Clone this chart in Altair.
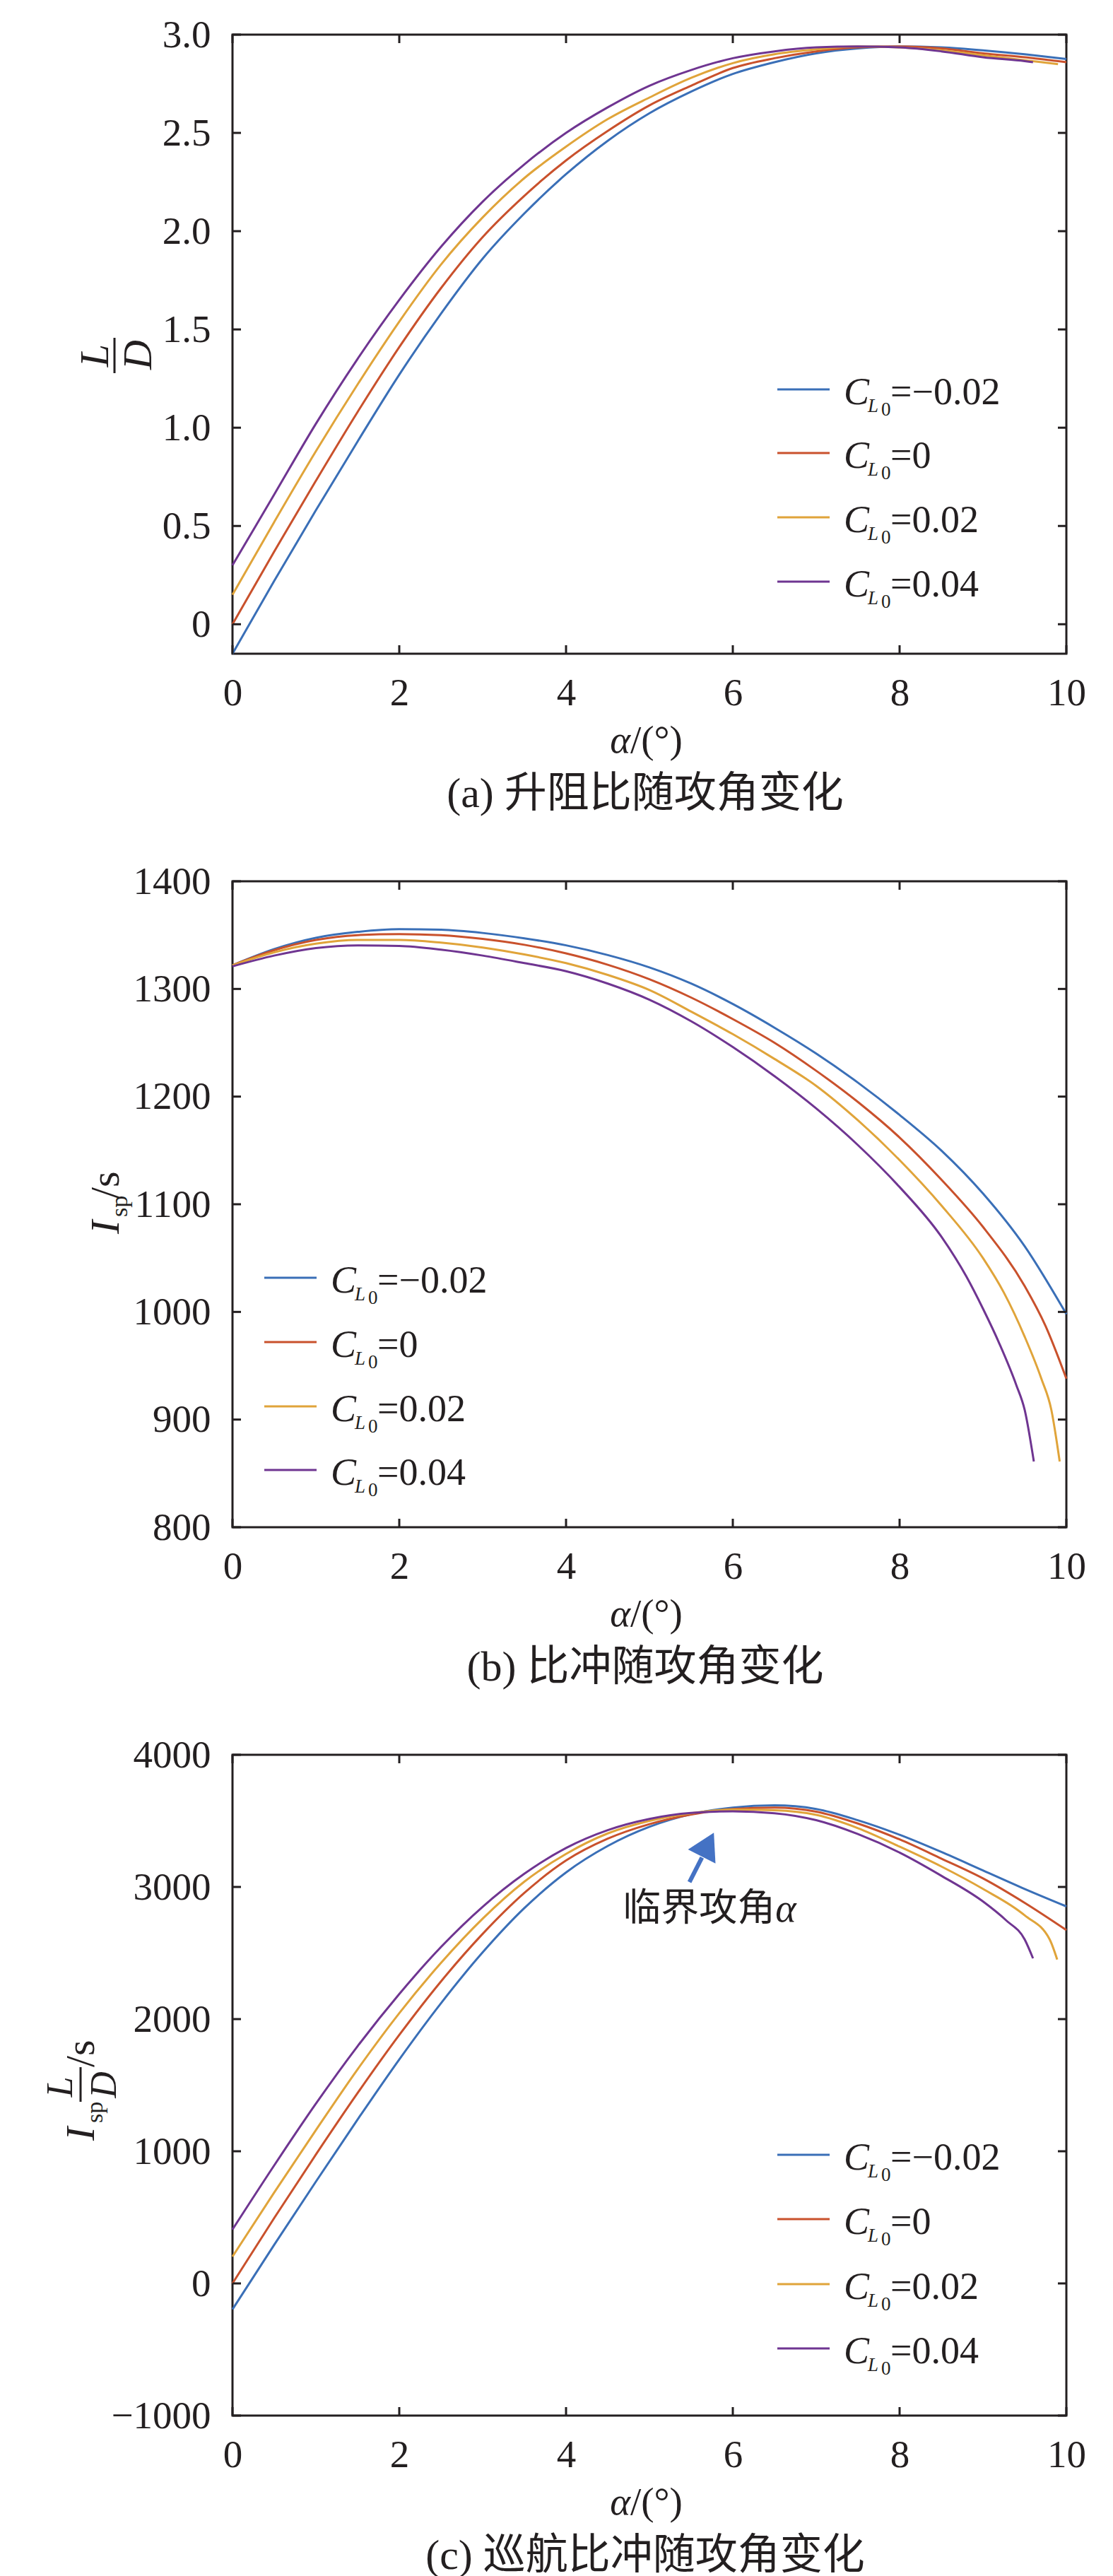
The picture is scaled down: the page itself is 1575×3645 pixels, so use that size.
import altair as alt
import pandas as pd

SERIF = "Liberation Serif"
CJK = "Liberation Serif, Noto Sans CJK SC"
INK = "#231f20"
ARROW = "#4472c4"
W = 1180

series = ["-0.02", "0", "0.02", "0.04"]
legend_values = ["=\u22120.02", "=0", "=0.02", "=0.04"]
colors = ["#3a6fb7", "#c9512c", "#e0a43a", "#6f3591"]

x_ticks = [0, 2, 4, 6, 8, 10]

alpha_full = [0, 0.5, 1, 1.5, 2, 2.5, 3, 3.5, 4, 4.5, 5, 5.5, 6, 6.5, 7, 7.5, 8, 8.5, 9, 9.5, 10]

# -------------------------
# (a) lift / drag
# -------------------------
ld_alpha_002 = [0, 0.5, 1, 1.5, 2, 2.5, 3, 3.5, 4, 4.5, 5, 5.5, 6, 6.5, 7, 7.5, 8, 8.5, 9, 9.5, 9.9]
ld_alpha_004 = [0, 0.5, 1, 1.5, 2, 2.5, 3, 3.5, 4, 4.5, 5, 5.5, 6, 6.5, 7, 7.5, 8, 8.5, 9, 9.5, 9.6]
ld_m002 = [-0.15, 0.22, 0.58, 0.93, 1.27, 1.58, 1.86, 2.09, 2.29, 2.46, 2.60, 2.71, 2.80, 2.86,
           2.905, 2.93, 2.94, 2.935, 2.92, 2.90, 2.876]
ld_0 = [0.0, 0.37, 0.73, 1.08, 1.41, 1.71, 1.97, 2.18, 2.36, 2.51, 2.64, 2.74, 2.83, 2.88,
        2.915, 2.935, 2.94, 2.93, 2.905, 2.885, 2.86]
ld_002 = [0.15, 0.52, 0.88, 1.22, 1.54, 1.83, 2.07, 2.27, 2.43, 2.57, 2.68, 2.78, 2.855, 2.90,
          2.925, 2.94, 2.935, 2.92, 2.895, 2.87, 2.85]
ld_004 = [0.30, 0.66, 1.02, 1.35, 1.65, 1.92, 2.15, 2.34, 2.50, 2.63, 2.74, 2.82, 2.88, 2.915,
          2.935, 2.94, 2.935, 2.915, 2.885, 2.865, 2.86]
ld_ticks = [0, 0.5, 1.0, 1.5, 2.0, 2.5, 3.0]

# -------------------------
# (b) specific impulse
# -------------------------
isp_alpha_0 = [0, 0.5, 1, 1.5, 2, 2.5, 3, 3.5, 4, 4.5, 5, 5.5, 6, 6.5, 7, 7.5, 8, 8.5, 9, 9.5, 9.75, 10]
isp_alpha_002 = [0, 0.5, 1, 1.5, 2, 2.5, 3, 3.5, 4, 4.5, 5, 5.5, 6, 6.5, 7, 7.5, 8, 8.5, 9,
                 9.25, 9.5, 9.7, 9.82, 9.92]
isp_alpha_004 = [0, 0.5, 1, 1.5, 2, 2.5, 3, 3.5, 4, 4.5, 5, 5.5, 6, 6.5, 7, 7.5, 8, 8.5,
                 8.8, 9, 9.2, 9.4, 9.5, 9.61]
isp_m002 = [1322, 1337, 1347.5, 1353, 1355.5, 1355, 1352, 1347, 1340.5, 1331.5, 1320, 1305, 1286,
            1264, 1240, 1213, 1183, 1150, 1110, 1061, 998]
isp_0 = [1322, 1336, 1345.5, 1350, 1351, 1350, 1346.5, 1341, 1333, 1322.5, 1309, 1292, 1272,
         1250, 1224, 1195, 1162, 1123, 1079, 1024, 987, 938]
isp_002 = [1322, 1334, 1342, 1345.5, 1345.5, 1343, 1338.5, 1332, 1324, 1313, 1299, 1279, 1258,
           1235, 1210, 1178, 1141, 1099, 1050, 1018, 977, 938, 909, 861]
isp_004 = [1321, 1331, 1338, 1340.5, 1340, 1336.5, 1331, 1324, 1316.5, 1305, 1290, 1270, 1246,
           1219, 1189, 1155, 1116, 1070, 1033, 1003, 970, 932, 909, 861]
isp_ticks = [800, 900, 1000, 1100, 1200, 1300, 1400]

# -------------------------
# (c) cruise specific impulse
# -------------------------
cr_alpha_002 = [0, 0.5, 1, 1.5, 2, 2.5, 3, 3.5, 4, 4.5, 5, 5.5, 6, 6.5, 7, 7.5, 8, 8.5, 9, 9.5, 9.8, 9.89]
cr_alpha_004 = [0, 0.5, 1, 1.5, 2, 2.5, 3, 3.5, 4, 4.5, 5, 5.5, 6, 6.5, 7, 7.5, 8, 8.5, 9, 9.28, 9.5, 9.6]
cr_m002 = [-196, 292, 770, 1240, 1695, 2120, 2505, 2840, 3110, 3310, 3455, 3550, 3600, 3617,
           3590, 3505, 3395, 3265, 3125, 2985, 2853]
cr_0 = [0, 495, 975, 1440, 1880, 2285, 2645, 2955, 3200, 3365, 3475, 3548, 3590, 3600,
        3570, 3480, 3360, 3215, 3065, 2880, 2674]
cr_002 = [203, 688, 1160, 1620, 2045, 2425, 2760, 3040, 3250, 3405, 3500, 3558, 3585, 3580,
          3545, 3445, 3305, 3155, 2985, 2785, 2603, 2451]
cr_004 = [408, 893, 1360, 1795, 2190, 2545, 2850, 3100, 3295, 3430, 3515, 3560, 3572, 3558,
          3505, 3400, 3260, 3085, 2890, 2746, 2603, 2460]
cr_ticks = [-1000, 0, 1000, 2000, 3000, 4000]

# arrow + note in (c)
arrow_alpha = [5.48, 5.63]
arrow_val = [3037, 3223]
head_alpha = [5.70]
head_val = [3320]
note_alpha = [6.51]
note_val = [2829]

one = pd.DataFrame({"k": [0]})


def txt(text, x, y, size=55, style="normal", align="left", angle=0, baseline="alphabetic", font=SERIF):
    return alt.Chart(one).mark_text(
        text=text, fontSize=size, fontStyle=style, align=align, baseline=baseline,
        angle=angle, font=font, color=INK
    ).encode(x=alt.value(x), y=alt.value(y))


def bar(x, y1, y2):
    return alt.Chart(one).mark_rule(color=INK, strokeWidth=3).encode(
        x=alt.value(x), y=alt.value(y1), y2=alt.value(y2))


def panel(alphas, values, y_domain, y_ticks, y_axis, height, legend_x, legend_ys, caption, extra):
    df = pd.concat([pd.DataFrame({"alpha": a, "val": v, "series": s})
                    for s, a, v in zip(series, alphas, values)])
    x_enc = alt.X("alpha:Q", scale=alt.Scale(domain=[0, 10], nice=False, zero=False),
                  axis=alt.Axis(values=x_ticks, format="d", title=None, labelFlush=False, labelPadding=29,
                                labelFont=SERIF, labelFontSize=55, labelColor=INK))
    y_enc = alt.Y("val:Q", scale=alt.Scale(domain=y_domain, nice=False, zero=False), axis=y_axis)

    lines = alt.Chart(df).mark_line(strokeWidth=3, interpolate="monotone").encode(
        x=x_enc, y=y_enc,
        color=alt.Color("series:N", scale=alt.Scale(domain=series, range=colors), legend=None)
    )

    # inward ticks on all four sides
    xt = pd.DataFrame({"alpha": x_ticks})
    yt = pd.DataFrame({"val": y_ticks})
    tick = dict(color=INK, strokeWidth=3)
    bottom = alt.Chart(xt).mark_rule(**tick).encode(x="alpha:Q", y=alt.value(height), y2=alt.value(height - 12))
    top = alt.Chart(xt).mark_rule(**tick).encode(x="alpha:Q", y=alt.value(0), y2=alt.value(12))
    left = alt.Chart(yt).mark_rule(**tick).encode(y="val:Q", x=alt.value(0), x2=alt.value(12))
    right = alt.Chart(yt).mark_rule(**tick).encode(y="val:Q", x=alt.value(W), x2=alt.value(W - 12))

    layers = [lines, bottom, top, left, right]

    # legend: C_{L0}=...
    for ly, lab, col in zip(legend_ys, legend_values, colors):
        x0 = legend_x + 94
        layers += [
            alt.Chart(one).mark_rule(color=col, strokeWidth=3).encode(
                x=alt.value(legend_x), x2=alt.value(legend_x + 74), y=alt.value(ly)),
            txt("C", x0, ly + 21, size=54, style="italic"),
            txt("L", x0 + 34, ly + 32, size=27, style="italic"),
            txt("0", x0 + 53, ly + 37, size=27),
            txt(lab, x0 + 66, ly + 21, size=54),
        ]

    # x title and caption
    layers += [
        txt("\u03b1", 563, height + 123, style="italic", align="right", baseline="middle"),
        txt("/(\u00b0)", 563, height + 123, align="left", baseline="middle"),
        txt(caption, 584, height + 199, size=60, align="center", baseline="middle", font=CJK),
    ]
    layers += extra
    return alt.layer(*layers).properties(width=W, height=height)


axis_common = dict(title=None, labelPadding=31, labelFont=SERIF, labelFontSize=55, labelColor=INK)

# (a)
pa = panel(
    [alpha_full, alpha_full, ld_alpha_002, ld_alpha_004],
    [ld_m002, ld_0, ld_002, ld_004],
    [-0.15, 3.0], ld_ticks,
    alt.Axis(values=ld_ticks, labelExpr="datum.value == 0 ? '0' : format(datum.value, '.1f')", **axis_common),
    876, 771, [502, 592, 683, 774], "(a) 升阻比随攻角变化",
    [
        txt("L", -176, 454, size=58, style="italic", align="center", angle=270),
        bar(-167, 429, 479),
        txt("D", -115, 453, size=58, style="italic", align="center", angle=270),
        # keeps the page offset of the whole figure
        alt.Chart(one).mark_rule(color="white").encode(x=alt.value(-319), y=alt.value(-39), y2=alt.value(-32)),
    ],
)

# (b)
pb = panel(
    [alpha_full, isp_alpha_0, isp_alpha_002, isp_alpha_004],
    [isp_m002, isp_0, isp_002, isp_004],
    [800, 1400], isp_ticks,
    alt.Axis(values=isp_ticks, format="d", **axis_common),
    914, 45, [561, 652, 743, 833], "(b) 比冲随攻角变化",
    [
        txt("I", -161, 499, size=58, style="italic", angle=270),
        txt("sp", -149, 475, size=34, angle=270),
        txt("/s", -161, 449, size=58, angle=270),
    ],
)

# (c)
arrow_df = pd.DataFrame({"alpha": arrow_alpha, "val": arrow_val})
head_df = pd.DataFrame({"alpha": head_alpha, "val": head_val})
note_df = pd.DataFrame({"alpha": note_alpha, "val": note_val})

pc = panel(
    [alpha_full, alpha_full, cr_alpha_002, cr_alpha_004],
    [cr_m002, cr_0, cr_002, cr_004],
    [-1000, 4000], cr_ticks,
    alt.Axis(values=cr_ticks, format="d", **axis_common),
    935, 771, [566, 657, 749, 840], "(c) 巡航比冲随攻角变化",
    [
        txt("I", -196, 546, size=58, style="italic", angle=270),
        txt("sp", -184, 521, size=34, angle=270),
        txt("L", -227, 470, size=52, style="italic", align="center", angle=270),
        bar(-215, 442, 491),
        txt("D", -165, 467, size=52, style="italic", align="center", angle=270),
        txt("/s", -196, 442, size=58, angle=270),
        alt.Chart(arrow_df).mark_line(color=ARROW, strokeWidth=6).encode(x="alpha:Q", y="val:Q"),
        alt.Chart(head_df).mark_point(shape="triangle-up", filled=True, size=1900, angle=27,
                                      color=ARROW, opacity=1, strokeWidth=0).encode(x="alpha:Q", y="val:Q"),
        alt.Chart(note_df).mark_text(text="临界攻角", font="Noto Sans CJK SC", fontSize=54, align="right",
                                     baseline="middle", color=INK).encode(x="alpha:Q", y="val:Q"),
        alt.Chart(note_df).mark_text(text="\u03b1", font=SERIF, fontSize=56, fontStyle="italic", align="left",
                                     baseline="middle", color=INK).encode(x="alpha:Q", y="val:Q"),
    ],
)

chart = alt.vconcat(pa, pb, pc, spacing=322, bounds="flush").resolve_scale(
    x="independent", y="independent", color="independent"
).properties(padding=0).configure(background="white").configure_view(
    stroke=INK, strokeWidth=3
).configure_axis(
    labelFont=SERIF, labelFontSize=55, labelColor=INK, ticks=False, domain=False, grid=False,
    labelOverlap=False
)

chart.save("out.html", embed_options={"renderer": "svg", "actions": False})
